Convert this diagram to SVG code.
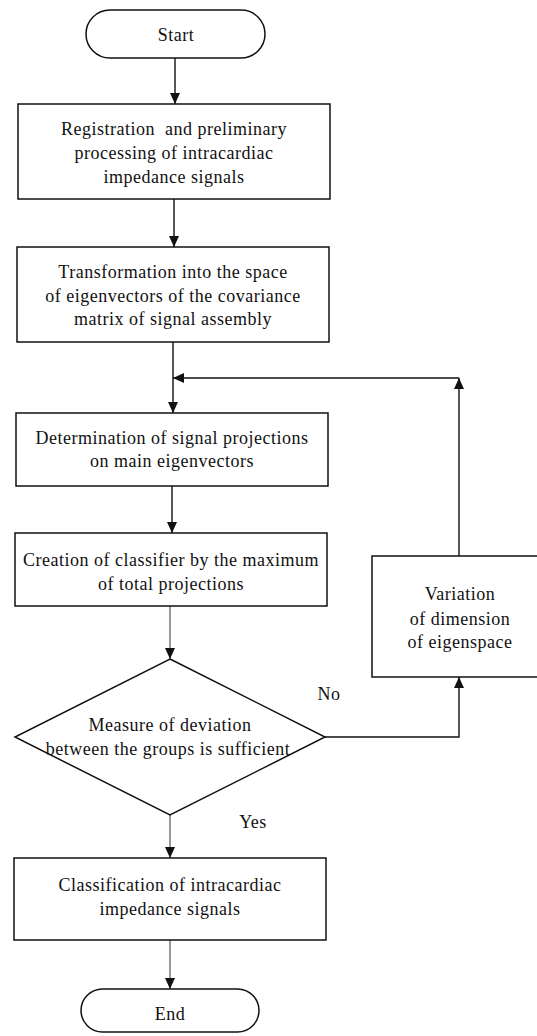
<svg xmlns="http://www.w3.org/2000/svg" width="537" height="1036" viewBox="0 0 537 1036">
<defs>
<style>
.box{fill:#fff;stroke:#111;stroke-width:1.5}
.t{font-family:'Liberation Serif','DejaVu Serif',serif;font-size:18px;letter-spacing:0.5px;fill:#111;text-anchor:middle}
.c{fill:none;stroke:#111;stroke-width:1.4}
.thin{fill:none;stroke:#333;stroke-width:1}
</style>
<marker id="ah" markerUnits="userSpaceOnUse" markerWidth="12" markerHeight="10" refX="11" refY="5" orient="auto">
<path d="M0,0 L11,5 L0,10 z" fill="#111"/>
</marker>
</defs>
<rect width="537" height="1036" fill="#fff"/>
<g id="connectors">
<line class="c" x1="175" y1="58" x2="175" y2="104" marker-end="url(#ah)"/>
<line class="c" x1="174" y1="199" x2="174" y2="247" marker-end="url(#ah)"/>
<line class="c" x1="173" y1="342" x2="173" y2="413" marker-end="url(#ah)"/>
<line class="c" x1="172" y1="486" x2="172" y2="533" marker-end="url(#ah)"/>
<line class="thin" x1="170" y1="606" x2="170" y2="659" marker-end="url(#ah)"/>
<line class="thin" x1="170" y1="815" x2="170" y2="858" marker-end="url(#ah)"/>
<line class="thin" x1="170" y1="940" x2="170" y2="989" marker-end="url(#ah)"/>
<polyline class="c" points="325,737 459,737 459,677" marker-end="url(#ah)"/>
<line class="c" x1="459" y1="556" x2="459" y2="378" marker-end="url(#ah)"/>
<line class="c" x1="459" y1="378" x2="173" y2="378" marker-end="url(#ah)"/>
<text class="t" x="329" y="700">No</text>
<text class="t" x="253" y="828">Yes</text>
</g>
<g id="start">
<rect class="box" x="86" y="10" width="179" height="48" rx="24" ry="24"/>
<text class="t" x="176" y="41">Start</text>
</g>
<g id="registration">
<rect class="box" x="18" y="104" width="312" height="95"/>
<text class="t" x="174" y="135" xml:space="preserve">Registration  and preliminary</text>
<text class="t" x="174" y="159">processing of intracardiac</text>
<text class="t" x="174" y="183">impedance signals</text>
</g>
<g id="transformation">
<rect class="box" x="17" y="247" width="312" height="95"/>
<text class="t" x="173" y="278">Transformation into the space</text>
<text class="t" x="173" y="302">of eigenvectors of the covariance</text>
<text class="t" x="173" y="325">matrix of signal assembly</text>
</g>
<g id="determination">
<rect class="box" x="16" y="413" width="312" height="73"/>
<text class="t" x="172" y="444">Determination of signal projections</text>
<text class="t" x="172" y="467">on main eigenvectors</text>
</g>
<g id="creation">
<rect class="box" x="15" y="533" width="312" height="73"/>
<text class="t" x="171" y="566">Creation of classifier by the maximum</text>
<text class="t" x="171" y="590">of total projections</text>
</g>
<g id="decision">
<polygon class="box" points="170,659 325,737 170,815 15,737"/>
<text class="t" x="170" y="731">Measure of deviation</text>
<text class="t" x="168" y="755">between the groups is sufficient</text>
</g>
<g id="variation">
<rect class="box" x="372" y="556" width="176" height="121"/>
<text class="t" x="460" y="600">Variation</text>
<text class="t" x="460" y="625">of dimension</text>
<text class="t" x="460" y="648">of eigenspace</text>
</g>
<g id="classification">
<rect class="box" x="14" y="858" width="312" height="82"/>
<text class="t" x="170" y="891">Classification of intracardiac</text>
<text class="t" x="170" y="915">impedance signals</text>
</g>
<g id="end">
<rect class="box" x="81" y="989" width="178" height="43" rx="21.5" ry="21.5"/>
<text class="t" x="170" y="1020">End</text>
</g>
</svg>
